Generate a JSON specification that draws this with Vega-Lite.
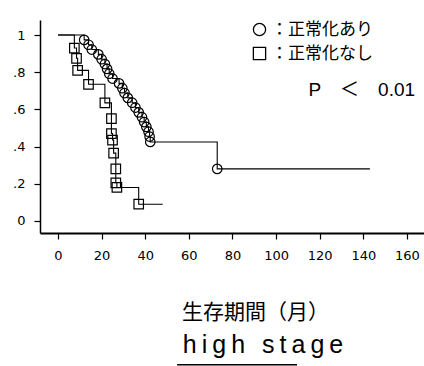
{
  "$schema": "https://vega.github.io/schema/vega-lite/v6.json",
  "width": 384,
  "height": 213,
  "autosize": "none",
  "padding": {"left": 40, "top": 20, "right": 0, "bottom": 133},
  "background": "white",
  "config": {"view": {"stroke": null}, "font": "DejaVu Sans"},
  "datasets": {
    "km": [
      {"group": "正常化あり", "kind": "start", "month": 0, "survival": 1.0},
      {"group": "正常化あり", "kind": "event", "month": 12, "survival": 0.974},
      {"group": "正常化あり", "kind": "event", "month": 14, "survival": 0.948},
      {"group": "正常化あり", "kind": "event", "month": 15.5, "survival": 0.922},
      {"group": "正常化あり", "kind": "event", "month": 18.5, "survival": 0.896},
      {"group": "正常化あり", "kind": "event", "month": 20, "survival": 0.87},
      {"group": "正常化あり", "kind": "event", "month": 21.5, "survival": 0.844},
      {"group": "正常化あり", "kind": "event", "month": 22.5, "survival": 0.818},
      {"group": "正常化あり", "kind": "event", "month": 23.5, "survival": 0.792},
      {"group": "正常化あり", "kind": "event", "month": 25, "survival": 0.766},
      {"group": "正常化あり", "kind": "event", "month": 28, "survival": 0.74},
      {"group": "正常化あり", "kind": "event", "month": 29.5, "survival": 0.714},
      {"group": "正常化あり", "kind": "event", "month": 30.5, "survival": 0.688},
      {"group": "正常化あり", "kind": "event", "month": 32, "survival": 0.662},
      {"group": "正常化あり", "kind": "event", "month": 34, "survival": 0.636},
      {"group": "正常化あり", "kind": "event", "month": 35.5, "survival": 0.61},
      {"group": "正常化あり", "kind": "event", "month": 37, "survival": 0.584},
      {"group": "正常化あり", "kind": "event", "month": 38.5, "survival": 0.558},
      {"group": "正常化あり", "kind": "event", "month": 39.5, "survival": 0.532},
      {"group": "正常化あり", "kind": "event", "month": 40.5, "survival": 0.506},
      {"group": "正常化あり", "kind": "event", "month": 41.5, "survival": 0.48},
      {"group": "正常化あり", "kind": "event", "month": 42, "survival": 0.454},
      {"group": "正常化あり", "kind": "event", "month": 42.3, "survival": 0.425},
      {"group": "正常化あり", "kind": "event", "month": 73, "survival": 0.28},
      {"group": "正常化あり", "kind": "end", "month": 143, "survival": 0.28},
      {"group": "正常化なし", "kind": "start", "month": 0, "survival": 1.0},
      {"group": "正常化なし", "kind": "event", "month": 7.5, "survival": 0.93},
      {"group": "正常化なし", "kind": "event", "month": 8.5, "survival": 0.875},
      {"group": "正常化なし", "kind": "event", "month": 9, "survival": 0.81},
      {"group": "正常化なし", "kind": "event", "month": 14, "survival": 0.735},
      {"group": "正常化なし", "kind": "event", "month": 21.5, "survival": 0.635},
      {"group": "正常化なし", "kind": "event", "month": 24.5, "survival": 0.55},
      {"group": "正常化なし", "kind": "event", "month": 24.5, "survival": 0.47},
      {"group": "正常化なし", "kind": "event", "month": 25, "survival": 0.435},
      {"group": "正常化なし", "kind": "event", "month": 25.5, "survival": 0.365},
      {"group": "正常化なし", "kind": "event", "month": 26.5, "survival": 0.28},
      {"group": "正常化なし", "kind": "event", "month": 26.5, "survival": 0.205},
      {"group": "正常化なし", "kind": "event", "month": 27, "survival": 0.18},
      {"group": "正常化なし", "kind": "event", "month": 37, "survival": 0.09},
      {"group": "正常化なし", "kind": "end", "month": 48, "survival": 0.09}
    ],
    "notes": [
      {"note": "p", "label": "P\u2003＜\u20030.01"},
      {"note": "stage", "label": "h\u2009i\u2009g\u2009h\u2009 \u2009s\u2009t\u2009a\u2009g\u2009e"}
    ]
  },
  "layer": [
    {
      "data": {"name": "km"},
      "mark": {"type": "line", "interpolate": "step-after", "color": "black", "strokeWidth": 1.1},
      "encoding": {
        "x": {
          "field": "month",
          "type": "quantitative",
          "scale": {"domain": [-8.25, 167.8], "nice": false, "zero": false},
          "axis": {
            "values": [0, 10, 20, 30, 40, 50, 60, 70, 80, 90, 100, 110, 120, 130, 140, 150, 160],
            "labelExpr": "datum.value % 20 === 0 ? datum.label : ''",
            "grid": false,
            "domainColor": "black",
            "domainWidth": 2,
            "tickColor": "black",
            "tickWidth": 1.2,
            "tickSize": 6,
            "labelFont": "DejaVu Sans",
            "labelFontSize": 13,
            "labelColor": "black",
            "labelPadding": 10,
            "labelFlush": false,
            "labelOverlap": false,
            "title": "生存期間（月）",
            "titleFont": "Noto Sans CJK JP",
            "titleFontSize": 21,
            "titleFontWeight": "normal",
            "titleColor": "black",
            "titleX": 215,
            "titleY": 79,
            "titleAlign": "center",
            "titleBaseline": "middle",
            "encode": {"ticks": {"update": {"y2": {"signal": "datum.value % 20 === 0 ? 6 : 3"}}}}
          }
        },
        "y": {
          "field": "survival",
          "type": "quantitative",
          "scale": {"domain": [-0.065, 1.081], "nice": false, "zero": false},
          "axis": {
            "values": [0, 0.1, 0.2, 0.3, 0.4, 0.5, 0.6, 0.7, 0.8, 0.9, 1],
            "labelExpr": "round(datum.value * 10) % 2 === 0 ? (datum.value === 0 ? '0' : datum.value === 1 ? '1' : replace(format(datum.value, '.1f'), '0.', '.')) : ''",
            "grid": false,
            "domainColor": "black",
            "domainWidth": 1.5,
            "tickColor": "black",
            "tickWidth": 1.2,
            "tickSize": 6,
            "labelFont": "DejaVu Sans",
            "labelFontSize": 13,
            "labelColor": "black",
            "labelPadding": 9,
            "labelFlush": false,
            "labelOverlap": false,
            "title": null,
            "encode": {"ticks": {"update": {"x2": {"signal": "round(datum.value * 10) % 2 === 0 ? -6 : -3"}}}}
          }
        },
        "detail": {"field": "group", "type": "nominal"},
        "order": [
          {"field": "month", "type": "quantitative"},
          {"field": "survival", "type": "quantitative", "sort": "descending"}
        ]
      }
    },
    {
      "data": {"name": "km"},
      "transform": [{"filter": "datum.kind === 'event'"}],
      "mark": {"type": "point", "filled": false, "stroke": "black", "strokeWidth": 1.2, "size": 90, "opacity": 1},
      "encoding": {
        "x": {"field": "month", "type": "quantitative"},
        "y": {"field": "survival", "type": "quantitative"},
        "shape": {
          "field": "group",
          "type": "nominal",
          "scale": {"domain": ["正常化あり", "正常化なし"], "range": ["circle", "square"]},
          "legend": {
            "title": null,
            "orient": "none",
            "legendX": 211,
            "legendY": 1,
            "padding": 0,
            "symbolSize": 150,
            "symbolStrokeWidth": 1.3,
            "symbolStrokeColor": "black",
            "symbolFillColor": "transparent",
            "labelFont": "Noto Sans CJK JP",
            "labelFontSize": 17,
            "labelColor": "black",
            "labelOffset": 3,
            "rowPadding": 5,
            "labelExpr": "'：' + datum.label"
          }
        }
      }
    },
    {
      "data": {"name": "notes"},
      "transform": [{"filter": "datum.note === 'p'"}],
      "mark": {"type": "text", "align": "right", "baseline": "middle", "font": "Liberation Sans, Noto Sans CJK JP", "fontWeight": 400, "fontSize": 19, "color": "black"},
      "encoding": {
        "x": {"datum": 163.7, "type": "quantitative"},
        "y": {"datum": 0.704, "type": "quantitative"},
        "text": {"field": "label", "type": "nominal"}
      }
    },
    {
      "data": {"name": "notes"},
      "transform": [{"filter": "datum.note === 'stage'"}],
      "mark": {"type": "text", "align": "center", "baseline": "alphabetic", "font": "Liberation Sans", "fontWeight": 400, "fontSize": 25, "color": "black"},
      "encoding": {
        "x": {"datum": 94, "type": "quantitative"},
        "y": {"datum": -0.71, "type": "quantitative"},
        "text": {"field": "label", "type": "nominal"}
      }
    },
    {
      "data": {"name": "notes"},
      "transform": [{"filter": "datum.note === 'stage'"}],
      "mark": {"type": "rule", "color": "black", "strokeWidth": 1.5},
      "encoding": {
        "x": {"datum": 54.6, "type": "quantitative"},
        "x2": {"datum": 109.6},
        "y": {"datum": -0.774, "type": "quantitative"}
      }
    }
  ]
}
